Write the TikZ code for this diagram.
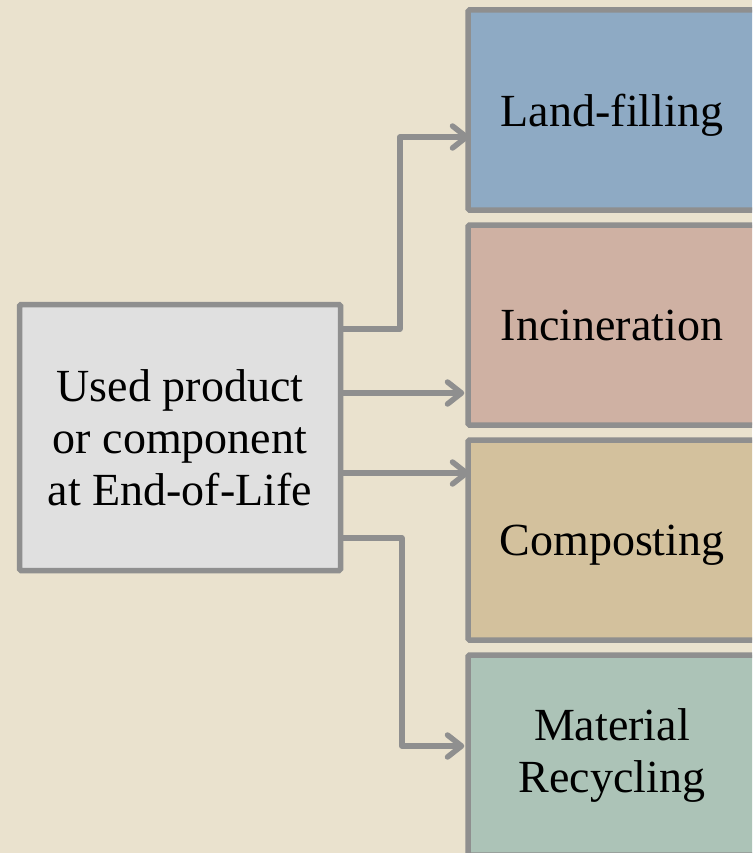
\documentclass[tikz,border=0pt]{standalone}
\usepackage{fontspec}
\setmainfont{Liberation Serif}
\usetikzlibrary{arrows.meta}
\definecolor{paper}{HTML}{EAE2CE}
\definecolor{edge}{HTML}{8F8F8F}
\definecolor{srcfill}{HTML}{E0E0E0}
\definecolor{landfill}{HTML}{8EAAC4}
\definecolor{incin}{HTML}{CFB1A3}
\definecolor{compost}{HTML}{D3C19D}
\definecolor{recycle}{HTML}{ACC3B7}
\tikzset{
  box/.style={draw=edge, line width=5.5pt, rounded corners=1.5pt,
    minimum width=288pt, minimum height=200pt, inner sep=0pt,
    align=center, font=\fontsize{46}{52}\selectfont},
  oneline/.style={text depth=0pt},
  srcbox/.style={box, fill=srcfill, minimum width=321pt, minimum height=266pt},
  conn/.style={draw=edge, line width=5.5pt, line join=round,
    -{Straight Barb[length=14pt,width=22pt,round]}}
}
\begin{document}
\begin{tikzpicture}[x=1pt,y=-1pt]
  \useasboundingbox (0,0) rectangle (752,853);
  \clip (0,0) rectangle (752,853);
  \fill[paper] (0,0) rectangle (752,853);

  % end-of-life routes
  \node[box, oneline, fill=landfill] (b1) at (612,110) {Land-filling};
  \node[box, oneline, fill=incin]    (b2) at (612,325) {Incineration};
  \node[box, oneline, fill=compost]  (b3) at (612,540) {Composting};
  \node[box, fill=recycle]           (b4) at (612,755) {Material\\Recycling};

  % source item
  \node[srcbox] (src) at (180,437.5) {Used product\\or component\\at End-of-Life};

  % connector start points on the source box
  \coordinate (o1) at ([yshift=108.5pt]src.east);
  \coordinate (o2) at ([yshift=44.5pt]src.east);
  \coordinate (o3) at ([yshift=-35.5pt]src.east);
  \coordinate (o4) at ([yshift=-100.5pt]src.east);

  \draw[conn] (o1) -- ++(56.5,0) |- ([xshift=4pt,yshift=-27pt]b1.west);
  \draw[conn] (o2) -- ([xshift=-1pt]o2 -| b2.west);
  \draw[conn] (o3) -- ([xshift=4pt]o3 -| b3.west);
  \draw[conn] (o4) -- ++(58.5,0) |- ([xshift=-1pt,yshift=9pt]b4.west);
\end{tikzpicture}
\end{document}
